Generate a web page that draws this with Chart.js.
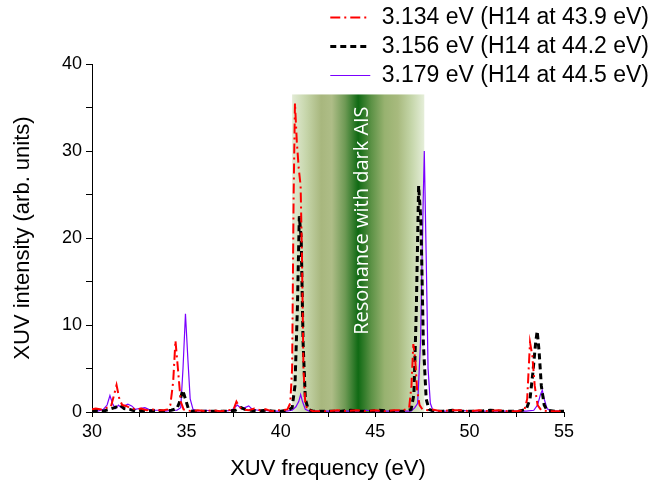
<!DOCTYPE html>
<html><head><meta charset="utf-8">
<script src="https://cdn.jsdelivr.net/npm/chart.js@4.4.1/dist/chart.umd.min.js"></script>
<style>html,body{margin:0;padding:0;background:#fff}#wrap{width:655px;height:485px;position:relative}</style>
</head><body><div id="wrap"><canvas id="c"></canvas></div>
<script>
// ---- data ----
const seriesLabels = ['3.134 eV (H14 at 43.9 eV)', '3.156 eV (H14 at 44.2 eV)', '3.179 eV (H14 at 44.5 eV)'];

const redX = [30.0,30.2,30.5,30.8,31.0,31.15,31.3,31.45,31.6,31.8,32.0,32.3,32.6,32.9,33.2,33.5,33.8,34.0,34.15,34.3,34.42,34.55,34.7,34.85,35.0,35.3,35.6,36.0,36.4,36.8,37.2,37.5,37.65,37.8,38.0,38.3,38.6,38.9,39.2,39.5,39.8,40.1,40.35,40.5,40.6,40.68,40.75,40.85,40.95,41.05,41.12,41.2,41.3,41.45,41.7,42.0,42.5,43.0,43.5,44.0,44.5,45.0,45.5,46.0,46.5,46.8,46.92,47.02,47.12,47.22,47.35,47.5,47.8,48.0,48.5,49.0,49.5,50.0,50.5,51.0,51.5,52.0,52.5,52.9,53.05,53.2,53.32,53.45,53.6,53.8,54.2,54.6,55.0];
const redY = [0.3,0.4,0.3,0.5,0.6,1.8,3.1,1.5,0.8,0.7,0.5,0.3,0.4,0.2,0.3,0.2,0.2,0.3,0.8,3.5,8.2,5.0,1.2,0.3,0.2,0.1,0.2,0.1,0.2,0.1,0.2,0.3,1.2,0.6,0.3,0.2,0.4,0.2,0.3,0.1,0.2,0.2,0.3,1.0,5.0,25.0,35.5,31.0,28.0,26.0,18.0,5.0,0.8,0.3,0.1,0.1,0.1,0.2,0.1,0.2,0.1,0.2,0.1,0.2,0.2,0.5,3.0,7.8,6.0,2.5,0.8,0.3,0.2,0.3,0.1,0.2,0.2,0.1,0.2,0.1,0.2,0.1,0.1,0.2,1.5,8.0,6.5,3.0,0.8,0.2,0.1,0.1,0.1];

const blackX = [30.0,30.3,30.6,30.9,31.2,31.5,31.7,32.0,32.3,32.6,33.0,33.4,33.8,34.2,34.5,34.65,34.8,34.95,35.1,35.3,35.7,36.2,36.7,37.2,37.6,37.9,38.1,38.4,38.8,39.2,39.6,40.0,40.4,40.6,40.75,40.88,40.98,41.08,41.18,41.3,41.45,41.7,42.2,42.7,43.2,43.7,44.2,44.7,45.2,45.7,46.2,46.6,46.9,47.05,47.18,47.3,47.42,47.55,47.7,47.85,48.1,48.6,49.1,49.6,50.1,50.6,51.1,51.6,52.1,52.6,53.0,53.2,53.35,53.5,53.58,53.68,53.8,53.95,54.1,54.5,55.0];
const blackY = [0.1,0.2,0.1,0.3,0.5,0.8,0.4,0.3,0.1,0.2,0.1,0.2,0.1,0.2,0.4,1.2,2.5,1.5,0.4,0.1,0.1,0.1,0.1,0.1,0.2,0.5,0.3,0.2,0.1,0.2,0.1,0.1,0.2,0.5,3.0,12.0,22.5,20.0,8.0,1.5,0.3,0.1,0.1,0.1,0.1,0.2,0.1,0.1,0.2,0.1,0.1,0.1,0.3,2.0,12.0,26.0,22.0,8.0,1.5,0.3,0.1,0.1,0.2,0.1,0.1,0.1,0.2,0.1,0.1,0.1,0.3,1.5,4.5,8.0,9.3,7.0,3.0,0.8,0.2,0.1,0.1];

const purpleX = [30.0,30.3,30.6,30.8,30.95,31.1,31.25,31.4,31.55,31.7,31.9,32.1,32.3,32.5,32.8,33.0,33.3,33.6,33.9,34.2,34.5,34.7,34.82,34.95,35.08,35.2,35.35,35.6,36.0,36.5,37.0,37.4,37.7,37.9,38.1,38.3,38.5,38.8,39.1,39.5,39.9,40.3,40.6,40.8,40.95,41.05,41.15,41.3,41.5,42.0,42.5,43.0,43.5,44.0,44.5,45.0,45.5,46.0,46.5,46.9,47.1,47.25,47.4,47.52,47.6,47.7,47.8,47.92,48.05,48.5,49.0,49.5,50.0,50.5,51.0,51.5,52.0,52.5,53.0,53.4,53.6,53.75,53.85,53.95,54.1,54.3,55.0];
const purpleY = [0.2,0.1,0.3,0.8,1.9,0.9,0.4,0.8,0.5,0.7,0.9,0.7,0.3,0.4,0.5,0.3,0.2,0.2,0.1,0.2,0.2,0.5,5.0,11.3,6.0,1.5,0.3,0.1,0.2,0.1,0.1,0.2,0.8,0.4,0.5,0.7,0.3,0.2,0.2,0.1,0.1,0.1,0.2,0.6,1.2,2.0,1.2,0.3,0.1,0.1,0.1,0.1,0.1,0.1,0.2,0.1,0.1,0.1,0.1,0.1,0.5,1.0,8.0,22.0,30.0,18.0,5.0,1.0,0.2,0.1,0.1,0.2,0.1,0.1,0.1,0.1,0.1,0.1,0.1,0.2,0.8,2.0,2.5,1.5,0.4,0.1,0.1];

const xRange = [30, 55];
const yRange = [0, 40];
const bandRange = [40.6, 47.6];
const bandTop = 36.5;
const bandText = 'Resonance with dark AIS';
const bandTextAt = [44.3, 22];
const xTitle = 'XUV frequency (eV)';
const yTitle = 'XUV intensity (arb. units)';

// ---- helpers ----
const pts = (xs, ys) => xs.map((x, i) => ({x: x, y: ys[i]}));

const bandPlugin = {
  id: 'band',
  beforeDatasetsDraw(chart) {
    const {ctx, scales: {x, y}} = chart;
    const x0 = x.getPixelForValue(bandRange[0]);
    const x1 = x.getPixelForValue(bandRange[1]);
    const y0 = y.getPixelForValue(bandTop);
    const y1 = y.getPixelForValue(0);
    const g = ctx.createLinearGradient(x0, 0, x1, 0);
    g.addColorStop(0.00, '#e2ebd5');
    g.addColorStop(0.10, '#c8d7ad');
    g.addColorStop(0.22, '#a8b77e');
    g.addColorStop(0.30, '#aebd87');
    g.addColorStop(0.40, '#6f9a55');
    g.addColorStop(0.50, '#106a14');
    g.addColorStop(0.60, '#5d9246');
    g.addColorStop(0.70, '#98b270');
    g.addColorStop(0.80, '#a8ba7e');
    g.addColorStop(0.90, '#c4d5a8');
    g.addColorStop(1.00, '#e5eed9');
    ctx.save();
    ctx.fillStyle = g;
    ctx.fillRect(x0, y0, x1 - x0, y1 - y0);
    ctx.translate(x.getPixelForValue(bandTextAt[0]), y.getPixelForValue(bandTextAt[1]));
    ctx.rotate(-Math.PI / 2);
    ctx.fillStyle = '#ffffff';
    ctx.font = '20px "Open Sans"';
    ctx.textAlign = 'center';
    ctx.textBaseline = 'middle';
    ctx.fillText(bandText, 0, 0);
    ctx.restore();
  }
};

const legendFix = {
  id: 'legendFix',
  afterLayout(chart) {
    const lg = chart.legend;
    if (lg) {
      lg.left = 0; lg.right = chart.width; lg.width = chart.width;
      lg.bottom = lg.top + 110; lg.height = 110;
    }
  }
};

const axisFont = {family: '"Liberation Sans", Arial, sans-serif', size: 18};
const titleFont = {family: '"Liberation Sans", Arial, sans-serif', size: 22};

new Chart(document.getElementById('c'), {
  type: 'line',
  data: {
    datasets: [
      {label: seriesLabels[0], data: pts(redX, redY), borderColor: '#ff0000', backgroundColor: '#ff0000', borderWidth: 2, borderDash: [10, 4, 2, 4]},
      {label: seriesLabels[1], data: pts(blackX, blackY), borderColor: '#000000', backgroundColor: '#000000', borderWidth: 3, borderDash: [6, 4]},
      {label: seriesLabels[2], data: pts(purpleX, purpleY), borderColor: '#7a00ff', backgroundColor: '#7a00ff', borderWidth: 1.2}
    ]
  },
  options: {
    responsive: true,
    maintainAspectRatio: false,
    animation: false,
    devicePixelRatio: 1,
    elements: {point: {radius: 0}, line: {tension: 0}},
    layout: {padding: {top: 0, left: 0, right: 91, bottom: 0}},
    plugins: {
      tooltip: {enabled: false},
      legend: {
        position: 'top',
        align: 'end',
        maxHeight: 64,
        labels: {
          font: {family: '"Liberation Sans", Arial, sans-serif', size: 23},
          color: '#000',
          usePointStyle: true,
          pointStyle: 'line',
          pointStyleWidth: 40,
          boxWidth: 40,
          padding: 6,
          generateLabels: chart => chart.data.datasets.map((ds, i) => ({
            text: ds.label,
            fillStyle: ds.borderColor,
            strokeStyle: ds.borderColor,
            lineWidth: ds.borderWidth,
            lineDash: ds.borderDash || [],
            lineCap: 'butt',
            pointStyle: 'line',
            hidden: false,
            fontColor: '#000',
            datasetIndex: i
          }))
        }
      }
    },
    scales: {
      x: {
        type: 'linear',
        min: xRange[0], max: xRange[1],
        afterFit: s => { s.height = 73; },
        ticks: {stepSize: 2.5, autoSkip: false, maxRotation: 0, color: '#000', font: axisFont, padding: 4,
          callback: v => (v % 5 === 0 ? String(v) : '')},
        grid: {drawOnChartArea: false, drawTicks: true, tickLength: 5, color: '#000'},
        border: {display: true, color: '#000', width: 1},
        title: {display: true, text: xTitle, color: '#000', font: titleFont, padding: {top: 0, bottom: 3}}
      },
      y: {
        min: yRange[0], max: yRange[1],
        afterFit: s => { s.width = 92; },
        ticks: {stepSize: 5, autoSkip: false, color: '#000', font: axisFont, padding: 4,
          callback: v => (v % 10 === 0 ? String(v) : '')},
        grid: {drawOnChartArea: false, drawTicks: true, tickLength: 6, color: '#000'},
        border: {display: true, color: '#000', width: 1},
        title: {display: true, text: yTitle, color: '#000', font: titleFont, padding: {top: 10, bottom: 0}}
      }
    }
  },
  plugins: [bandPlugin, legendFix]
});
</script></body></html>
